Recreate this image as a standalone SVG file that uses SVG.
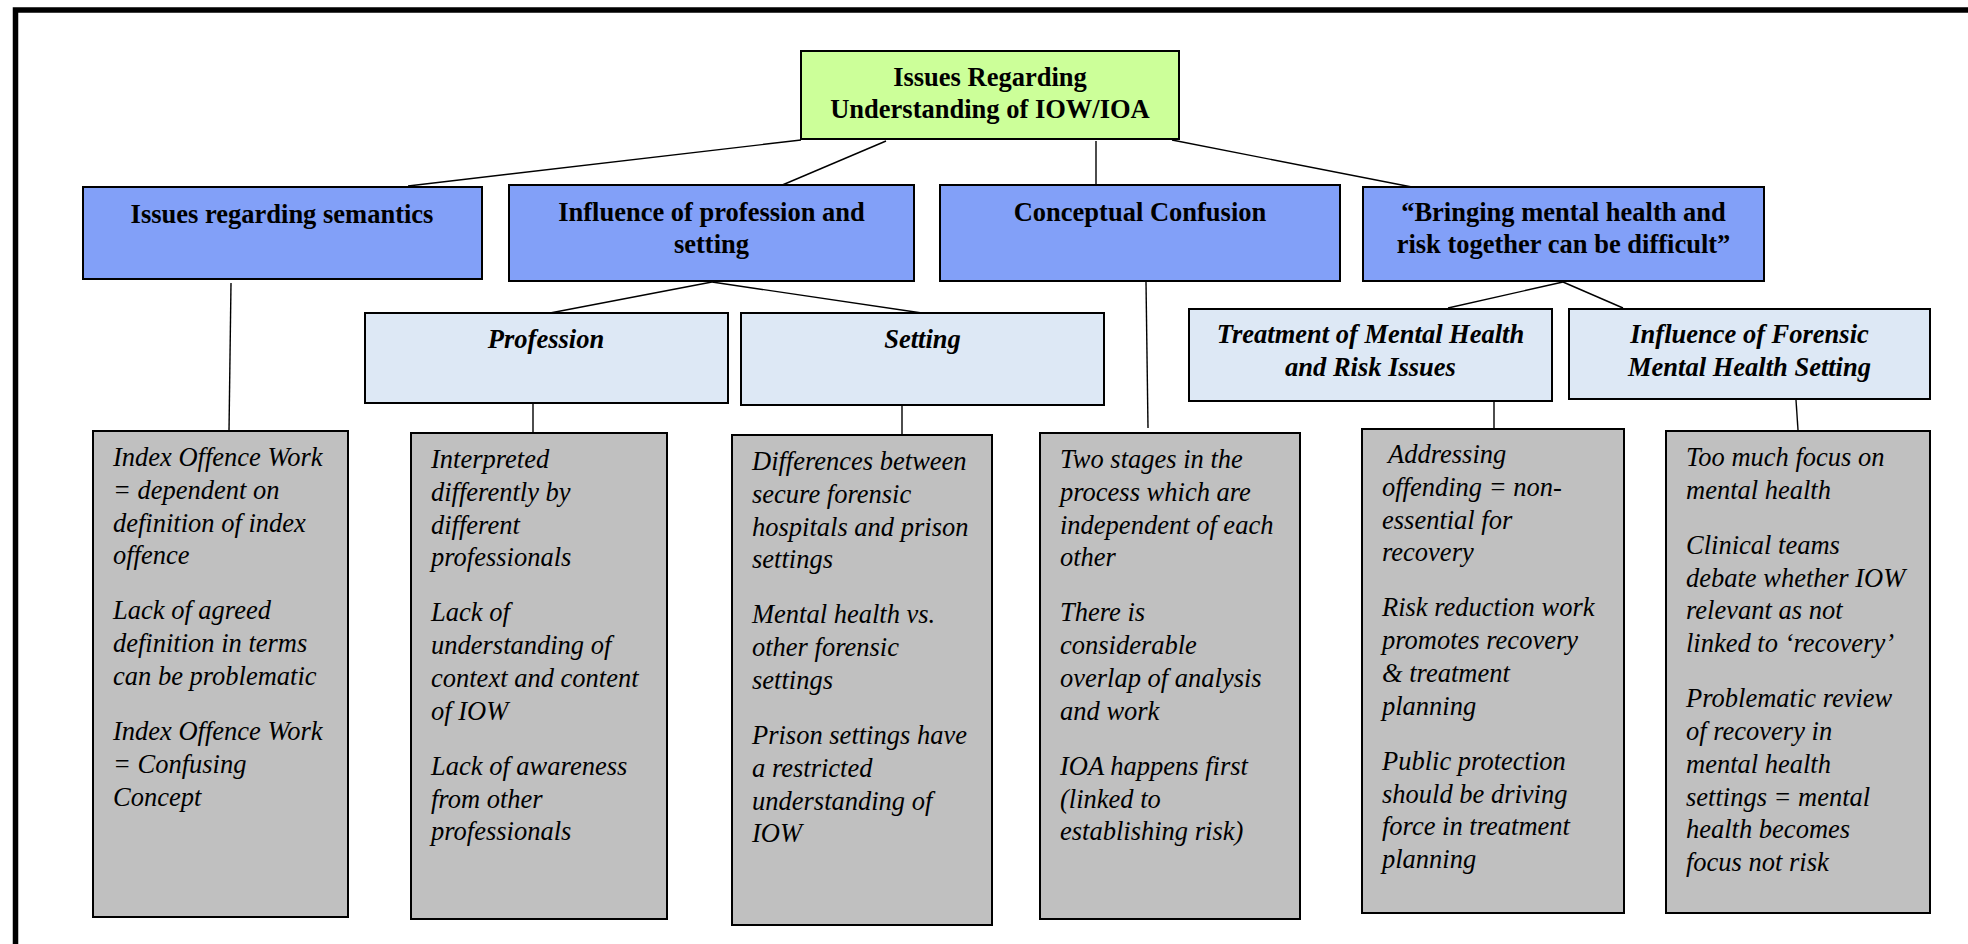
<svg xmlns="http://www.w3.org/2000/svg" width="1968" height="944" viewBox="0 0 1968 944">
  <style>
    .frame { fill: none; stroke: #000; stroke-width: 5.5; }
    .root { fill: #CCFF99; stroke: #000; stroke-width: 2; }
    .theme { fill: #82A0F8; stroke: #000; stroke-width: 2; }
    .sub { fill: #DDE8F5; stroke: #000; stroke-width: 2; }
    .detail { fill: #C0C0C0; stroke: #000; stroke-width: 2; }
    .conn line { stroke: #000; stroke-width: 1.4; }
    text { font-family: 'Liberation Serif', Tinos, 'DejaVu Serif', serif; font-size: 26.5px; fill: #000; }
    .hb { font-weight: bold; text-anchor: middle; }
    .hbi { font-weight: bold; font-style: italic; text-anchor: middle; }
    .it { font-style: italic; }
  </style>

  <rect class="frame" x="15.5" y="10" width="1980" height="980"/>

  <g id="connectors" class="conn">
    <line x1="801" y1="140" x2="408" y2="186"/>
    <line x1="886" y1="141" x2="780" y2="186"/>
    <line x1="1096" y1="141" x2="1096" y2="185"/>
    <line x1="1172" y1="140" x2="1417" y2="188"/>
    <line x1="231" y1="283" x2="229" y2="431"/>
    <line x1="712" y1="282" x2="550" y2="313"/>
    <line x1="712" y1="282" x2="922" y2="313"/>
    <line x1="533" y1="402" x2="533" y2="433"/>
    <line x1="902" y1="403" x2="902" y2="435"/>
    <line x1="1146" y1="282" x2="1148" y2="428"/>
    <line x1="1563" y1="282" x2="1448" y2="308"/>
    <line x1="1563" y1="282" x2="1623" y2="308"/>
    <line x1="1494" y1="402" x2="1494" y2="432"/>
    <line x1="1796" y1="400" x2="1798" y2="430"/>
  </g>

  <g id="root" font-family="Liberation Serif, DejaVu Serif, serif">
    <rect class="root" x="801" y="51" width="378" height="88"/>
    <text class="hb" x="990" y="86">Issues Regarding</text>
    <text class="hb" x="990" y="118">Understanding of IOW/IOA</text>
  </g>

  <g id="semantics">
    <rect class="theme" x="83" y="187" width="399" height="92"/>
    <text class="hb" x="282" y="223">Issues regarding semantics</text>
  </g>

  <g id="profession-setting">
    <rect class="theme" x="509" y="185" width="405" height="96"/>
    <text class="hb" x="711.5" y="221">Influence of profession and</text>
    <text class="hb" x="711.5" y="253">setting</text>
  </g>

  <g id="conceptual">
    <rect class="theme" x="940" y="185" width="400" height="96"/>
    <text class="hb" x="1140" y="221">Conceptual Confusion</text>
  </g>

  <g id="mental-health-risk">
    <rect class="theme" x="1363" y="187" width="401" height="94"/>
    <text class="hb" x="1563.5" y="221">“Bringing mental health and</text>
    <text class="hb" x="1563.5" y="253">risk together can be difficult”</text>
  </g>

  <g id="profession">
    <rect class="sub" x="365" y="313" width="363" height="90"/>
    <text class="hbi" x="546" y="348">Profession</text>
  </g>

  <g id="setting">
    <rect class="sub" x="741" y="313" width="363" height="92"/>
    <text class="hbi" x="922.5" y="348">Setting</text>
  </g>

  <g id="treatment">
    <rect class="sub" x="1189" y="309" width="363" height="92"/>
    <text class="hbi" x="1370.5" y="343">Treatment of Mental Health</text>
    <text class="hbi" x="1370.5" y="376">and Risk Issues</text>
  </g>

  <g id="forensic-setting">
    <rect class="sub" x="1569" y="309" width="361" height="90"/>
    <text class="hbi" x="1749.5" y="343">Influence of Forensic</text>
    <text class="hbi" x="1749.5" y="376">Mental Health Setting</text>
  </g>

  <g id="semantics-detail">
    <rect class="detail" x="93" y="431" width="255" height="486"/>
    <text class="it" x="113" y="466">
      <tspan x="113">Index Offence Work</tspan>
      <tspan x="113" dy="32.8">= dependent on</tspan>
      <tspan x="113" dy="32.8">definition of index</tspan>
      <tspan x="113" dy="32.8">offence</tspan>
      <tspan x="113" dy="55">Lack of agreed</tspan>
      <tspan x="113" dy="32.8">definition in terms</tspan>
      <tspan x="113" dy="32.8">can be problematic</tspan>
      <tspan x="113" dy="55">Index Offence Work</tspan>
      <tspan x="113" dy="32.8">= Confusing</tspan>
      <tspan x="113" dy="32.8">Concept</tspan>
    </text>
  </g>

  <g id="profession-detail">
    <rect class="detail" x="411" y="433" width="256" height="486"/>
    <text class="it" x="431" y="468">
      <tspan x="431">Interpreted</tspan>
      <tspan x="431" dy="32.8">differently by</tspan>
      <tspan x="431" dy="32.8">different</tspan>
      <tspan x="431" dy="32.8">professionals</tspan>
      <tspan x="431" dy="55">Lack of</tspan>
      <tspan x="431" dy="32.8">understanding of</tspan>
      <tspan x="431" dy="32.8">context and content</tspan>
      <tspan x="431" dy="32.8">of IOW</tspan>
      <tspan x="431" dy="55">Lack of awareness</tspan>
      <tspan x="431" dy="32.8">from other</tspan>
      <tspan x="431" dy="32.8">professionals</tspan>
    </text>
  </g>

  <g id="setting-detail">
    <rect class="detail" x="732" y="435" width="260" height="490"/>
    <text class="it" x="752" y="470">
      <tspan x="752">Differences between</tspan>
      <tspan x="752" dy="32.8">secure forensic</tspan>
      <tspan x="752" dy="32.8">hospitals and prison</tspan>
      <tspan x="752" dy="32.8">settings</tspan>
      <tspan x="752" dy="55">Mental health vs.</tspan>
      <tspan x="752" dy="32.8">other forensic</tspan>
      <tspan x="752" dy="32.8">settings</tspan>
      <tspan x="752" dy="55">Prison settings have</tspan>
      <tspan x="752" dy="32.8">a restricted</tspan>
      <tspan x="752" dy="32.8">understanding of</tspan>
      <tspan x="752" dy="32.8">IOW</tspan>
    </text>
  </g>

  <g id="conceptual-detail">
    <rect class="detail" x="1040" y="433" width="260" height="486"/>
    <text class="it" x="1060" y="468">
      <tspan x="1060">Two stages in the</tspan>
      <tspan x="1060" dy="32.8">process which are</tspan>
      <tspan x="1060" dy="32.8">independent of each</tspan>
      <tspan x="1060" dy="32.8">other</tspan>
      <tspan x="1060" dy="55">There is</tspan>
      <tspan x="1060" dy="32.8">considerable</tspan>
      <tspan x="1060" dy="32.8">overlap of analysis</tspan>
      <tspan x="1060" dy="32.8">and work</tspan>
      <tspan x="1060" dy="55">IOA happens first</tspan>
      <tspan x="1060" dy="32.8">(linked to</tspan>
      <tspan x="1060" dy="32.8">establishing risk)</tspan>
    </text>
  </g>

  <g id="treatment-detail">
    <rect class="detail" x="1362" y="429" width="262" height="484"/>
    <text class="it" x="1382" y="463">
      <tspan x="1388">Addressing</tspan>
      <tspan x="1382" dy="32.8">offending = non-</tspan>
      <tspan x="1382" dy="32.8">essential for</tspan>
      <tspan x="1382" dy="32.8">recovery</tspan>
      <tspan x="1382" dy="55">Risk reduction work</tspan>
      <tspan x="1382" dy="32.8">promotes recovery</tspan>
      <tspan x="1382" dy="32.8">&amp; treatment</tspan>
      <tspan x="1382" dy="32.8">planning</tspan>
      <tspan x="1382" dy="55">Public protection</tspan>
      <tspan x="1382" dy="32.8">should be driving</tspan>
      <tspan x="1382" dy="32.8">force in treatment</tspan>
      <tspan x="1382" dy="32.8">planning</tspan>
    </text>
  </g>

  <g id="forensic-detail">
    <rect class="detail" x="1666" y="431" width="264" height="482"/>
    <text class="it" x="1686" y="466">
      <tspan x="1686">Too much focus on</tspan>
      <tspan x="1686" dy="32.8">mental health</tspan>
      <tspan x="1686" dy="55">Clinical teams</tspan>
      <tspan x="1686" dy="32.8">debate whether IOW</tspan>
      <tspan x="1686" dy="32.8">relevant as not</tspan>
      <tspan x="1686" dy="32.8">linked to ‘recovery’</tspan>
      <tspan x="1686" dy="55">Problematic review</tspan>
      <tspan x="1686" dy="32.8">of recovery in</tspan>
      <tspan x="1686" dy="32.8">mental health</tspan>
      <tspan x="1686" dy="32.8">settings = mental</tspan>
      <tspan x="1686" dy="32.8">health becomes</tspan>
      <tspan x="1686" dy="32.8">focus not risk</tspan>
    </text>
  </g>
</svg>
